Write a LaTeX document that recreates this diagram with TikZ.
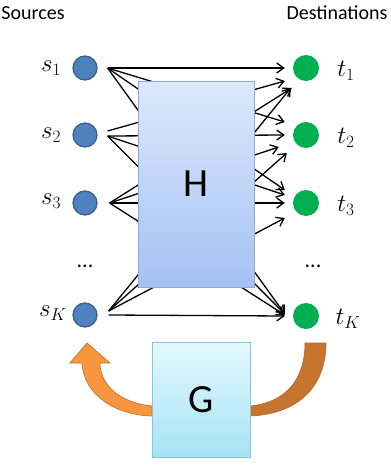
\documentclass[tikz,border=0pt]{standalone}
\usepackage{fontspec}
\setmainfont{Carlito}
\usetikzlibrary{arrows.meta,calc}
\definecolor{srcblue}{HTML}{4F81BD}
\definecolor{srcedge}{HTML}{385D8A}
\definecolor{dstgreen}{HTML}{00B050}
\definecolor{htop}{HTML}{DCE8FB}
\definecolor{hbot}{HTML}{A5C2F3}
\definecolor{hedge}{HTML}{8EAADB}
\definecolor{gtop}{HTML}{E3F8FE}
\definecolor{gbot}{HTML}{A6E3F6}
\definecolor{gedge}{HTML}{84C6DA}
\definecolor{orangeL}{HTML}{F7963F}
\definecolor{orangeLe}{HTML}{C8702C}
\definecolor{orangeR}{HTML}{C6752F}
\definecolor{orangeRe}{HTML}{B0652A}
\tikzset{
  src/.style={circle,fill=srcblue,draw=srcedge,line width=1.2pt,minimum size=24pt,inner sep=0pt},
  dst/.style={circle,fill=dstgreen,minimum size=26pt,inner sep=0pt},
  lbl/.style={font=\fontsize{26}{28}\selectfont,inner sep=0pt},
  dots/.style={font=\fontsize{22}{24}\selectfont,inner sep=0pt},
  head/.style={font=\fontsize{20}{22}\selectfont,inner sep=0pt},
  arr/.style={line width=1.3pt,-{Straight Barb[length=7pt,width=10pt,line width=1.3pt]}},
  bigbox/.style={draw=hedge,line width=1pt,top color=htop,bottom color=hbot,inner sep=0pt},
  gbox/.style={draw=gedge,line width=1pt,top color=gtop,bottom color=gbot,inner sep=0pt},
  boxtxt/.style={font=\fontsize{40}{44}\selectfont}
}
\begin{document}
\begin{tikzpicture}[x=1pt,y=-1pt]
\useasboundingbox (0,0) rectangle (391,466);
% headings
\node[head] (hs) at (33,13) {Sources};
\node[head] (hd) at (337,13) {Destinations};
% sources
\node[src] (s1) at (85,68) {};
\node[src] (s2) at (85,135) {};
\node[src] (s3) at (85,203) {};
\node[src] (sK) at (85,315) {};
\node[dst] (t1) at (306,68) {};
\node[dst] (t2) at (306,135) {};
\node[dst] (t3) at (306,203) {};
\node[dst] (tK) at (306,316) {};
% labels
\node[lbl] (ls1) at (51,68) {$s_1$};
\node[lbl] (ls2) at (51,135) {$s_2$};
\node[lbl] (ls3) at (51,201) {$s_3$};
\node[lbl] (lsK) at (53,313) {$s_K$};
\node[lbl] (lt1) at (346,71) {$t_1$};
\node[lbl] (lt2) at (346,138) {$t_2$};
\node[lbl] (lt3) at (346,206) {$t_3$};
\node[lbl] (ltK) at (348,319) {$t_K$};
\node[dots] (dl) at (85,266) {...};
\node[dots] (dr) at (313,266) {...};
% connections s_i -> t_j
\draw[arr] ($(s1.east)+(10,0)$) -- ($(t1.west)+(-8,0)$);
\draw[arr] ($(s1.east)+(10,0)$) -- ($(t2.west)+(-8,-13)$);
\draw[arr] ($(s1.east)+(10,0)$) -- ($(t3.west)+(-8,-13)$);
\draw[arr] ($(s1.east)+(10,0)$) -- ($(tK.west)+(-8,-2)$);
\draw[arr] ($(s2.east)+(10,-4)$) -- ($(t1.west)+(-8,13)$);
\draw[arr] ($(s2.east)+(10,1)$) -- ($(t2.west)+(-8,0)$);
\draw[arr] ($(s2.east)+(10,1)$) -- ($(t3.west)+(-8,-8)$);
\draw[arr] ($(s2.east)+(10,1)$) -- ($(tK.west)+(-8,-2)$);
\draw[arr] ($(s3.east)+(12,0)$) -- ($(t1.west)+(-1,20)$);
\draw[arr] ($(s3.east)+(12,0)$) -- ($(t2.west)+(-14,12)$);
\draw[arr] ($(s3.east)+(12,0)$) -- ($(t3.west)+(-8,0)$);
\draw[arr] ($(s3.east)+(12,0)$) -- ($(tK.west)+(-8,-1)$);
\draw[arr] ($(sK.east)+(11,-4)$) -- ($(t1.west)+(-2,20)$);
\draw[arr] ($(sK.east)+(11,-4)$) -- ($(t2.west)+(-6,18)$);
\draw[arr] ($(sK.east)+(11,-4)$) -- ($(t3.west)+(-8,15)$);
\draw[arr] ($(sK.east)+(11,0)$) -- ($(tK.west)+(-8,0)$);
% H box
\node[bigbox,minimum width=116pt,minimum height=206pt] (H) at (196,184) {};
\node[boxtxt] (Hl) at (H.center) {H};
% feedback arrows
\fill[orangeR,draw=orangeRe,line width=0.6pt] (250,406) .. controls (290,402) and (305,375) .. (305,343)
  -- (326,343) .. controls (326,385) and (300,414) .. (250,416) -- cycle;
\fill[orangeL,draw=orangeLe,line width=0.7pt] (152,406) .. controls (120,403) and (100,385) .. (100,363)
  -- (110,363) -- (87,343) -- (70,363) -- (82,363) .. controls (84,395) and (115,415) .. (152,416) -- cycle;
% G box
\node[gbox,minimum width=98pt,minimum height=115pt] (G) at (201,400) {};
\node[boxtxt] (Gl) at (G.center) {G};
\end{tikzpicture}
\end{document}
